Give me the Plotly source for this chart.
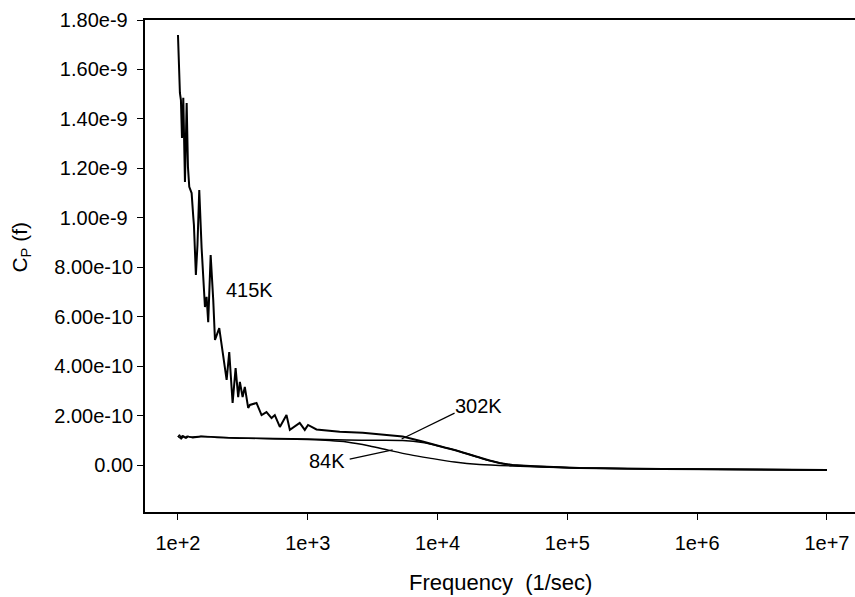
import plotly.graph_objects as go
import numpy as np

# ---- data (frequency in 1/sec, Cp in units of 1e-10) ----
f_415 = [100, 103.5, 105.4, 107.4, 109.9, 111.2, 113.2, 116.7, 118.0, 119.4,
         122.2, 127.4, 131.2, 132.7, 137.4, 141.3, 145.9, 148.9, 152.1, 161.4,
         166.2, 171.0, 178.6, 187.0, 192.8, 208.0, 220.8, 237.1, 248.3, 263.6,
         278.0, 291.1, 299.9, 314.8, 327.3, 347.5, 358.1, 402.7, 440.6, 480.8,
         526.0, 557.2, 609.5, 685.5, 727.8, 867.0, 948.4, 1005, 1167, 1762,
         2649, 3500, 5383, 7674, 9484, 11320, 13520, 15560, 18270, 21040,
         25120, 29990, 37760, 55720, 123600, 538300, 1e7]
c_415 = [17.39, 15.05, 14.76, 13.23, 14.85, 13.27, 11.45, 14.64, 12.62, 12.05,
         11.25, 11.00, 10.03, 9.71, 7.69, 8.90, 11.12, 9.50, 8.78, 6.39,
         6.80, 5.78, 8.49, 6.67, 5.06, 5.54, 4.57, 3.44, 4.57, 2.51,
         3.92, 2.75, 3.36, 2.75, 3.16, 2.31, 2.43, 2.51, 2.02, 2.14,
         1.90, 2.02, 1.54, 2.02, 1.42, 1.70, 1.42, 1.62, 1.44, 1.35,
         1.31, 1.25, 1.15, 0.95, 0.81, 0.71, 0.61, 0.51, 0.40, 0.30,
         0.18, 0.08, 0.00, -0.05, -0.12, -0.16, -0.20]

f_302 = [100, 103, 106, 110, 115, 120, 130, 150, 200, 300, 1000, 2000, 3500, 5383,
         7674, 9484, 11320, 13520, 15560, 18270, 21040, 25120, 29990, 37760,
         55720, 123600, 538300, 1e7]
c_302 = [1.13, 1.21, 1.05, 1.17, 1.09, 1.15, 1.11, 1.15, 1.12, 1.09, 1.05, 1.01, 1.00, 0.99,
         0.91, 0.81, 0.71, 0.61, 0.51, 0.40, 0.30, 0.18, 0.08, 0.00,
         -0.05, -0.12, -0.16, -0.20]

f_84 = [100, 104, 108, 112, 118, 125, 150, 200, 300, 1000, 1476, 2000, 2999, 4276,
        6092, 8670, 13520, 21040, 37760, 123600, 538300, 1e7]
c_84 = [1.17, 1.09, 1.19, 1.11, 1.17, 1.13, 1.17, 1.13, 1.09, 1.03, 0.99, 0.93, 0.77, 0.59,
        0.42, 0.28, 0.12, 0.02, -0.04, -0.12, -0.16, -0.20]

# leader lines for labels
lead_302_f = [13520, 5284]
lead_302_c = [2.10, 1.05]
lead_84_f = [2104, 4508]
lead_84_c = [0.24, 0.61]

x_tickvals = [1e2, 1e3, 1e4, 1e5, 1e6, 1e7]
x_ticktext = ["1e+2", "1e+3", "1e+4", "1e+5", "1e+6", "1e+7"]
y_tickvals = [0, 2e-10, 4e-10, 6e-10, 8e-10, 1e-9, 1.2e-9, 1.4e-9, 1.6e-9, 1.8e-9]
y_ticktext = ["0.00", "2.00e-10", "4.00e-10", "6.00e-10", "8.00e-10",
              "1.00e-9\u00a0", "1.20e-9\u00a0", "1.40e-9\u00a0",
              "1.60e-9\u00a0", "1.80e-9\u00a0"]

scale = 1e-10
FONT = "Liberation Sans, Arial, sans-serif"

fig = go.Figure()
for f, c, w, shp in [(f_84, c_84, 1.4, "spline"), (f_302, c_302, 1.6, "spline"),
                     (f_415, c_415, 2.0, "linear")]:
    fig.add_trace(go.Scatter(x=f, y=[v * scale for v in c], mode="lines",
                             line=dict(color="black", width=w, shape=shp, smoothing=0.8),
                             showlegend=False, hoverinfo="skip"))
for f, c in [(lead_302_f, lead_302_c), (lead_84_f, lead_84_c)]:
    fig.add_trace(go.Scatter(x=f, y=[v * scale for v in c], mode="lines",
                             line=dict(color="black", width=1.2), showlegend=False,
                             hoverinfo="skip"))

labels = [("415K", 358, 7.08), ("302K", 20650, 2.39), ("84K", 1400, 0.16)]
for txt, fx, cy in labels:
    fig.add_annotation(x=np.log10(fx), y=cy * scale, text=txt, showarrow=False,
                       font=dict(family=FONT, size=20, color="black"),
                       xanchor="center", yanchor="middle")

fig.add_annotation(xref="paper", yref="paper", x=0.5, y=-0.144,
                   text="Frequency\u00a0\u00a0(1/sec)", showarrow=False,
                   font=dict(family=FONT, size=22, color="black"),
                   xanchor="center", yanchor="middle")
fig.add_annotation(xref="paper", yref="paper", x=-0.175, y=0.539,
                   text="C<sub>P</sub> (f)", showarrow=False, textangle=-90,
                   font=dict(family=FONT, size=21, color="black"),
                   xanchor="center", yanchor="middle")

fig.update_layout(
    width=855, height=597,
    margin=dict(l=145, r=0, t=20, b=85),
    paper_bgcolor="white", plot_bgcolor="white",
    font=dict(family=FONT, size=20, color="black"),
    xaxis=dict(type="log", range=[1.746, 7.216], tickvals=x_tickvals,
               ticktext=x_ticktext, ticks="outside", ticklen=6, tickwidth=1.2,
               tickcolor="black", showline=True, linecolor="black", linewidth=1.5,
               mirror=True, showgrid=False, zeroline=False, ticklabelstandoff=6),
    yaxis=dict(range=[-1.9e-10, 1.8e-9], tickvals=y_tickvals, ticktext=y_ticktext,
               ticks="outside", ticklen=6, tickwidth=1.2, tickcolor="black",
               showline=True, linecolor="black", linewidth=1.5, mirror=False,
               showgrid=False, zeroline=False),
)

fig.write_html("out.html")
